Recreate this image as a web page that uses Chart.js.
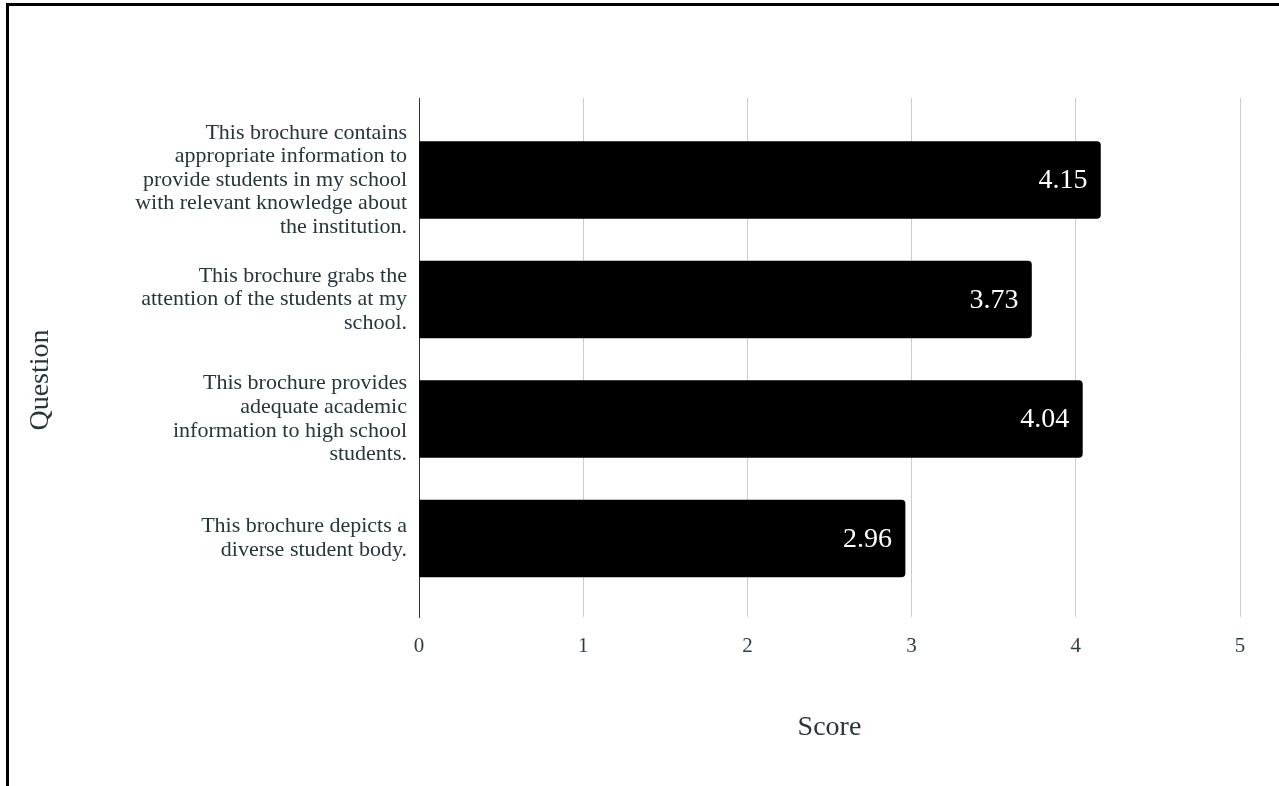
<!DOCTYPE html>
<html>
<head>
<meta charset="utf-8">
<script src="https://cdn.jsdelivr.net/npm/chart.js@4.4.1/dist/chart.umd.min.js"></script>
<style>
  body { margin: 0; background: #fff; overflow: hidden; }
  #wrap { position: relative; width: 1279px; height: 786px; }
  #frame {
    position: absolute; left: 6px; top: 3px; width: 1300px; height: 800px;
    border-top: 3px solid #000; border-left: 3px solid #000; pointer-events: none;
  }
</style>
</head>
<body>
<div id="wrap">
  <canvas id="barChartCanvas"></canvas>
  <div id="frame"></div>
</div>
<script>
// data
var questions = [
  ['This brochure contains', 'appropriate information to', 'provide students in my school', 'with relevant knowledge about', 'the institution.'],
  ['This brochure grabs the', 'attention of the students at my', 'school.'],
  ['This brochure provides', 'adequate academic', 'information to high school', 'students.'],
  ['This brochure depicts a', 'diverse student body.']
];
var scores = [4.15, 3.73, 4.04, 2.96];
var scoreTicks = [0, 1, 2, 3, 4, 5];

var textColor = '#27363a';
var serif = "'Liberation Serif', 'DejaVu Serif', serif";

// white value text at the end of each bar + the rotated "Question" title
var barLabels = {
  id: 'barLabels',
  afterDatasetsDraw: function (chart) {
    var ctx = chart.ctx;
    var meta = chart.getDatasetMeta(0);
    ctx.save();
    ctx.fillStyle = '#fff';
    ctx.font = '28px ' + serif;
    ctx.textAlign = 'right';
    ctx.textBaseline = 'middle';
    meta.data.forEach(function (bar, i) {
      ctx.fillText(scores[i].toFixed(2), bar.x - 13, bar.y + 1);
    });
    ctx.restore();

    ctx.save();
    ctx.fillStyle = textColor;
    ctx.font = '28px ' + serif;
    ctx.textAlign = 'center';
    ctx.textBaseline = 'middle';
    ctx.translate(41, 380);
    ctx.rotate(-Math.PI / 2);
    ctx.fillText('Question', 0, 0);
    ctx.restore();
  }
};

var ctx = document.getElementById('barChartCanvas').getContext('2d');

var barChart = new Chart(ctx, {
  type: 'bar',
  data: {
    datasets: [{
      label: 'Score',
      data: scores.map(function (v, i) { return { x: v, y: i }; }),
      backgroundColor: '#000',
      borderRadius: 4,
      borderSkipped: 'start',
      barThickness: 77
    }]
  },
  options: {
    indexAxis: 'y',
    responsive: true,
    maintainAspectRatio: false,
    animation: false,
    layout: { padding: { left: 0, top: 98, right: 39, bottom: 0 } },
    plugins: {
      legend: { display: false },
      tooltip: { enabled: false }
    },
    scales: {
      x: {
        type: 'linear',
        min: scoreTicks[0],
        max: scoreTicks[scoreTicks.length - 1],
        afterBuildTicks: function (scale) {
          scale.ticks = scoreTicks.map(function (v) { return { value: v }; });
        },
        afterFit: function (scale) { scale.height = 169; },
        grid: {
          color: function (c) { return c.tick && c.tick.value === 0 ? 'rgba(0,0,0,0)' : '#cccccc'; },
          lineWidth: 1,
          drawTicks: false
        },
        border: { display: false },
        ticks: {
          color: '#2f3e46',
          font: { family: serif, size: 21 },
          padding: 17
        },
        title: {
          display: true,
          text: 'Score',
          color: textColor,
          font: { family: serif, size: 28 },
          padding: { top: 0, bottom: 42 }
        }
      },
      y: {
        type: 'linear',
        reverse: true,
        offset: false,
        min: -0.686,
        max: 3.657,
        afterFit: function (scale) { scale.width = 419; },
        grid: { display: false, drawTicks: false, offset: false },
        border: { display: true, color: '#333', width: 1 },
        ticks: {
          stepSize: 1,
          autoSkip: false,
          padding: 12,
          color: textColor,
          font: { family: serif, size: 22, lineHeight: 1.07 },
          callback: function (value) {
            return Number.isInteger(value) && questions[value] ? questions[value] : '';
          }
        }
      }
    }
  },
  plugins: [barLabels]
});
</script>
</body>
</html>
